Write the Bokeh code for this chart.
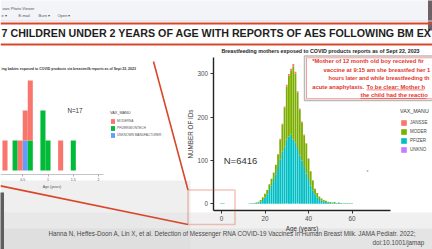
from bokeh.plotting import figure
from bokeh.models import (ColumnDataSource, Range1d, LinearAxis, FixedTicker,
                          Label, BoxAnnotation, Span, Arrow, Legend, LegendItem)
from bokeh.embed import file_html
from bokeh.resources import INLINE

# ---------------- data ----------------
# Main histogram: breastfeeding mothers, reports per year of age (stacked by manufacturer)
ages = [0, 1] + list(range(13, 61))
pfizer = [1, 1,
          0, 1, 1, 2, 3, 5, 9, 14, 22, 32,
          43, 55, 68, 85, 103, 120, 132, 148, 155, 160,
          147, 142, 128, 112, 100, 85, 70, 57, 42, 30,
          22, 15, 11, 7, 5, 4, 3, 2, 2, 2,
          1, 2, 1, 1, 1, 0, 1, 0]
moderna = [1, 0,
           1, 0, 1, 1, 2, 4, 6, 9, 10, 13,
           15, 16, 22, 29, 45, 63, 90, 122, 141, 147,
           169, 159, 128, 105, 88, 73, 69, 47, 33, 24,
           13, 10, 6, 5, 4, 3, 2, 2, 1, 2,
           1, 1, 1, 0, 1, 1, 0, 1]
janssen = [0, 0,
           0, 0, 0, 0, 0, 0, 0, 0, 0, 0,
           0, 1, 0, 1, 2, 2, 3, 4, 4, 5,
           6, 4, 3, 3, 2, 2, 1, 1, 0, 1,
           0, 0, 0, 0, 0, 0, 0, 0, 0, 0,
           0, 0, 0, 0, 0, 0, 0, 0]
unknown = [0, 0,
           0, 0, 0, 0, 0, 0, 0, 0, 0, 0,
           0, 0, 0, 0, 0, 0, 0, 1, 0, 0,
           1, 0, 1, 0, 0, 0, 0, 0, 0, 0,
           0, 0, 0, 0, 0, 0, 0, 0, 0, 0,
           0, 0, 0, 0, 0, 0, 0, 0]
main_x_ticks = [0, 20, 40, 60]
main_y_ticks = [0, 100, 200, 300]
# legend labels as far as they are visible at the right edge of the photo
main_labels = ["JANSSE", "MODER", "PFIZER", "UNKNO"]

# Inset histogram: breastfeeding babies (age in years, 0.1-year bins)
kid_age = [0.15, 0.35, 0.45, 0.55, 0.65, 0.9, 1.0, 1.25, 1.5]
kid_moderna = [1, 0, 1, 1, 2, 0, 0, 1, 0]
kid_pfizer = [0, 1, 0, 0, 1, 2, 1, 0, 1]
kid_unknown = [0, 0, 0, 1, 0, 0, 0, 0, 0]
kid_x_ticks = [0.5, 1.0, 1.5, 2.0]
kid_labels = ["MODERNA", "PFIZER\\BIONTECH", "UNKNOWN MANUFACTURER"]

# texts, as far as the photographed slide shows them
TITLE = "7 CHILDREN UNDER 2 YEARS OF AGE WITH REPORTS OF AES FOLLOWING BM EX"
SUBTITLE = "Breastfeeding mothers exposed to COVID products reports as of Sept 22, 2023"
KID_TITLE = "ing babies exposed to COVID products via breastmilk reports as of Sept 22, 2023"
NOTE_LINES = ["*Mother of 12 month old boy received fir",
              "vaccine at 9:15 am she breastfed her 1",
              "hours later and while breastfeeding th",
              "acute anaphylaxis."]
NOTE_UNDERLINED = ["To be clear: Mother h", "the child had the reactio"]
CITATION = ("Hanna N, Heffes-Doon A, Lin X, et al. Detection of Messenger RNA COVID-19 "
            "Vaccines in Human Breast Milk. JAMA Pediatr. 2022;")
DOI = "doi:10.1001/jamap"

# ---------------- styling ----------------
FONT = "Liberation Sans"
RED = "#D9472B"
NOTE_RED = "#E2352C"
C_JAN, C_MOD, C_PFZ, C_UNK = "#F8766D", "#7CAE00", "#00BFC4", "#C77CFF"
K_MOD, K_PFZ, K_UNK = "#F8766D", "#00BA38", "#619CFF"

# page canvas: frame spans picture pixels x 0..432, y 0..249 (y downwards)
FX0, FX1, FY0, FY1 = 0, 432, 249, 0


def lin_range(p_ref, v_ref, ppu, lo, hi):
    return Range1d(start=v_ref + (lo - p_ref) / ppu, end=v_ref + (hi - p_ref) / ppu)


def to_val(p, p_ref, v_ref, ppu):
    return v_ref + (p - p_ref) / ppu


# main plot scale: age 0 at px 221, 2.175 px / year ; count 0 at px 203.3, 0.433 px / count
MX = (221.0, 0.0, 2.175)
MY = (203.3, 0.0, -0.433)
# inset scale: age 1.0 at px 47.5, 50.6 px / year ; count 0 at px 170, 30 px / count
IX = (47.5, 1.0, 50.6)
IY = (170.0, 0.0, -30.0)

p = figure(width=432, height=249, x_range=Range1d(FX0, FX1), y_range=Range1d(FY0, FY1),
           output_backend="svg", toolbar_location=None, x_axis_type=None, y_axis_type=None,
           min_border=0, outline_line_color=None, background_fill_color="white",
           border_fill_color="white")
p.extra_x_ranges = {"mx": lin_range(*MX, FX0, FX1), "ix": lin_range(*IX, FX0, FX1)}
p.extra_y_ranges = {"my": lin_range(*MY, FY0, FY1), "iy": lin_range(*IY, FY0, FY1)}

# background: photo-viewer strip and greyish lower part of the photographed screen
p.add_layout(BoxAnnotation(top=-5, bottom=20.5, fill_color="#F3F4F7", fill_alpha=1,
                           line_alpha=0, level="underlay"))
p.add_layout(Span(location=20.5, dimension="width", line_color="#D8DDE5", line_width=1))
p.add_layout(BoxAnnotation(left=427.5, right=440, top=-5, bottom=30, fill_color="#6E6166",
                           fill_alpha=1, line_alpha=0, level="underlay"))
p.add_layout(BoxAnnotation(top=180, bottom=260, right=190, fill_color="#E2E2E2",
                           fill_alpha=0.55, line_alpha=0, level="underlay"))
p.add_layout(BoxAnnotation(top=212, bottom=260, fill_color="#E2E2E2", fill_alpha=0.5,
                           line_alpha=0, level="underlay"))
p.add_layout(BoxAnnotation(top=228, bottom=260, fill_color="#D4D4D4", fill_alpha=0.45,
                           line_alpha=0, level="underlay"))
p.add_layout(BoxAnnotation(left=-5, right=3.5, top=192, bottom=260, fill_color="#5E5E5E",
                           fill_alpha=1, line_alpha=0, level="underlay"))
p.add_layout(Label(x=2, y=7.5, text="ows Photo Viewer", text_font=FONT, text_font_size="4px",
                   text_color="#555555", text_baseline="middle"))
for x, t in [(1, "e \u25be"), (18, "E-mail"), (38, "Burn \u25be"), (57, "Open \u25be")]:
    p.add_layout(Label(x=x, y=15, text=t, text_font=FONT, text_font_size="4px",
                       text_color="#555555", text_baseline="middle"))

# title band
p.add_layout(Span(location=23, dimension="width", line_color=RED, line_width=2))
p.add_layout(Span(location=44, dimension="width", line_color=RED, line_width=2))
p.add_layout(Label(x=1, y=32.5, text=TITLE, text_font=FONT, text_font_size="10.7px",
                   text_font_style="bold", text_color="#1E1E1E", text_baseline="middle"))

# ---------------- main histogram ----------------
src = ColumnDataSource(dict(age=ages, unknown=unknown, pfizer=pfizer,
                            moderna=moderna, janssen=janssen))
rs = p.vbar_stack(["unknown", "pfizer", "moderna", "janssen"], x="age", width=0.85,
                  fill_color=[C_UNK, C_PFZ, C_MOD, C_JAN], line_color=None, source=src,
                  x_range_name="mx", y_range_name="my")

xax = LinearAxis(x_range_name="mx", y_range_name="my",
                 fixed_location=to_val(210, *MY),
                 bounds=(to_val(212.5, *MX), to_val(390, *MX)),
                 ticker=FixedTicker(ticks=main_x_ticks), axis_label="Age (years)")
yax = LinearAxis(x_range_name="mx", y_range_name="my",
                 fixed_location=to_val(212.5, *MX),
                 bounds=(to_val(210, *MY), to_val(57, *MY)),
                 ticker=FixedTicker(ticks=main_y_ticks), axis_label="NUMBER OF IDs")
for ax in (xax, yax):
    ax.axis_line_color = "#222222"
    ax.axis_line_width = 1.4
    ax.major_tick_line_color = "#333333"
    ax.major_tick_out = 3
    ax.major_tick_in = 0
    ax.minor_tick_line_color = None
    ax.major_label_text_font = FONT
    ax.major_label_text_font_size = "6.3px"
    ax.major_label_text_color = "#4D4D4D"
    ax.major_label_standoff = 2
    ax.axis_label_text_font = FONT
    ax.axis_label_text_font_size = "6.3px"
    ax.axis_label_text_font_style = "normal"
    ax.axis_label_text_color = "#333333"
    ax.axis_label_standoff = 1
p.add_layout(xax, "below")
p.add_layout(yax, "left")

main_legend = Legend(items=[LegendItem(label=lab, renderers=[r])
                            for lab, r in zip(main_labels, rs[::-1])],
                     location=(400 - FX0, FY0 - 153), title="VAX_MANU",
                     title_text_font=FONT, title_text_font_size="5.3px",
                     title_text_font_style="normal", title_text_color="#333333",
                     title_standoff=5, label_text_font=FONT, label_text_font_size="4.5px",
                     label_text_color="#444444", label_standoff=3, glyph_width=7,
                     glyph_height=7, label_height=7, spacing=2, padding=0, margin=0,
                     border_line_alpha=0, background_fill_alpha=0)
p.add_layout(main_legend)

p.add_layout(Label(x=320, y=50, text=SUBTITLE, text_font=FONT, text_font_size="5.3px",
                   text_font_style="bold", text_color="#222222", text_align="center",
                   text_baseline="middle"))
p.add_layout(Label(x=240, y=160, text="N=6416", text_font=FONT, text_font_size="9.5px",
                   text_color="#333333", text_align="center", text_baseline="middle"))
p.add_layout(Label(x=367, y=171, text="*", text_font=FONT, text_font_size="5px",
                   text_color="#777777", text_align="center", text_baseline="middle"))

# quoted report box
p.add_layout(BoxAnnotation(left=304, right=445, top=55.5, bottom=100, fill_color="white",
                           fill_alpha=1, line_color="#1A1A1A", line_width=1.5))
p.add_layout(BoxAnnotation(left=306, right=445, top=57.3, bottom=98.2, fill_alpha=0,
                           line_color=NOTE_RED, line_width=0.7, line_alpha=0.7))
note_x = [311.7, 323, 328, 311.7]
note_y = [60, 69, 77.5, 86.2]
note_size = ["5.85px", "5.85px", "5.6px", "5.85px"]
for t, x, y, s in zip(NOTE_LINES, note_x, note_y, note_size):
    p.add_layout(Label(x=x, y=y, text=t, text_font=FONT, text_font_size=s,
                       text_font_style="bold", text_color=NOTE_RED, text_baseline="middle"))
for t, x, y, xe in zip(NOTE_UNDERLINED, [366, 360], [86.2, 94.7], [424, 426]):
    p.add_layout(Label(x=x, y=y, text=t, text_font=FONT, text_font_size="5.85px",
                       text_font_style="bold", text_color=NOTE_RED, text_baseline="middle"))
    p.add_layout(Arrow(end=None, x_start=x, y_start=y + 3.2, x_end=xe, y_end=y + 3.2,
                       line_color=NOTE_RED, line_width=0.6))

# ---------------- inset histogram ----------------
ksrc = ColumnDataSource(dict(age=kid_age, unknown=kid_unknown, pfizer=kid_pfizer,
                             moderna=kid_moderna))
krs = p.vbar_stack(["unknown", "pfizer", "moderna"], x="age", width=0.1,
                   fill_color=[K_UNK, K_PFZ, K_MOD], line_color=None, source=ksrc,
                   x_range_name="ix", y_range_name="iy")
kax = LinearAxis(x_range_name="ix", y_range_name="iy",
                 fixed_location=to_val(174, *IY),
                 bounds=(to_val(FX0, *IX), to_val(103, *IX)),
                 ticker=FixedTicker(ticks=kid_x_ticks), axis_label="Age (years)")
kax.axis_line_color = "#AAAAAA"
kax.axis_line_width = 0.7
kax.major_tick_line_color = "#AAAAAA"
kax.major_tick_out = 2
kax.major_tick_in = 0
kax.minor_tick_line_color = None
kax.major_label_text_font = FONT
kax.major_label_text_font_size = "3.6px"
kax.major_label_text_color = "#555555"
kax.major_label_standoff = 1
kax.axis_label_text_font = FONT
kax.axis_label_text_font_size = "3.6px"
kax.axis_label_text_font_style = "normal"
kax.axis_label_text_color = "#555555"
kax.axis_label_standoff = 1
p.add_layout(kax, "below")

kid_legend = Legend(items=[LegendItem(label=lab, renderers=[r])
                           for lab, r in zip(kid_labels, krs[::-1])],
                    location=(110 - FX0, FY0 - 137.5), title="VAX_MANU",
                    title_text_font=FONT, title_text_font_size="3.8px",
                    title_text_font_style="normal", title_text_color="#444444",
                    title_standoff=3, label_text_font=FONT, label_text_font_size="3.2px",
                    label_text_color="#555555", label_standoff=2, glyph_width=5,
                    glyph_height=6, label_height=6, spacing=1, padding=0, margin=0,
                    border_line_alpha=0, background_fill_alpha=0)
p.add_layout(kid_legend)

p.add_layout(Label(x=1, y=68.3, text=KID_TITLE, text_font=FONT, text_font_size="3.5px",
                   text_font_style="bold", text_color="#333333", text_baseline="middle"))
p.add_layout(Label(x=74.5, y=110, text="N=17", text_font=FONT, text_font_size="6.3px",
                   text_color="#333333", text_align="center", text_baseline="middle"))

# zoom call-out: red square around the children at age ~0, and connector lines
p.add_layout(BoxAnnotation(left=187.5, right=234.5, top=189.5, bottom=224, fill_alpha=0,
                           line_color=RED, line_width=1.6))
p.add_layout(Arrow(end=None, x_start=153, y_start=61, x_end=187.5, y_end=189.5,
                   line_color=RED, line_width=1.6))
p.add_layout(Arrow(end=None, x_start=0, y_start=185.4, x_end=187.5, y_end=224,
                   line_color=RED, line_width=1.6))

# citation
p.add_layout(Label(x=48, y=233.3, text=CITATION, text_font=FONT, text_font_size="6.3px",
                   text_color="#4A4A4A", text_baseline="middle"))
p.add_layout(Label(x=372, y=242, text=DOI, text_font=FONT, text_font_size="6.3px",
                   text_color="#4A4A4A", text_baseline="middle"))

open("out.html", "w").write(file_html(p, INLINE))
